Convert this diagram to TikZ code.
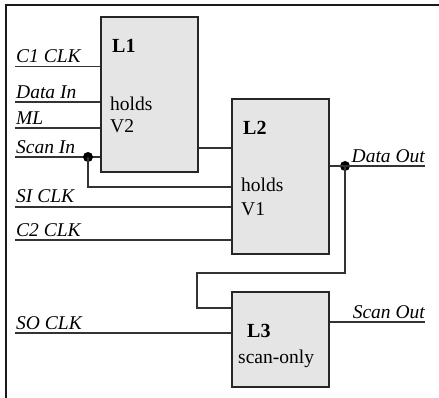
\documentclass[tikz,border=0pt]{standalone}
\usepackage{fontspec}
\setmainfont{Liberation Serif}
\begin{document}
\begin{tikzpicture}[x=1pt,y=-1pt,
  latch/.style={draw=black!85,line width=1.6pt,fill=black!10,minimum width=97pt,inner sep=0pt},
  wire/.style={draw=black!80,line width=1.25pt},
  sig/.style={font=\fontsize{19.5}{23}\selectfont\itshape,inner sep=0pt},
  txt/.style={font=\fontsize{19.5}{23}\selectfont,inner sep=0pt,anchor=base west},
  ttl/.style={font=\fontsize{20}{23}\selectfont\bfseries,inner sep=0pt,anchor=base west},
  dot/.style={circle,fill=black,inner sep=0pt,minimum size=10pt}]
\useasboundingbox (0,0) rectangle (439,398);
% corner frame
\draw[line width=1.6pt,black!90] (439,5) -- (6,5) -- (6,398);

% latches
\node[latch,minimum height=155pt] (L1) at (149.5,94.5) {};
\node[latch,minimum height=155pt] (L2) at (280.5,176.5) {};
\node[latch,minimum height=95pt]  (L3) at (280.5,339.5) {};

\node[ttl] (t1) at (112,53) {L1};
\node[txt] (h1) at (110,111) {holds};
\node[txt] (v2) at (110,133) {V2};
\node[ttl] (t2) at (243,135) {L2};
\node[txt] (h2) at (241,192) {holds};
\node[txt] (v1) at (241,215) {V1};
\node[ttl] (t3) at (247,337) {L3};
\node[txt] (so) at (238,363) {scan-only};

% free ends of the input and output wires
\coordinate (c1) at (15,66.5);
\coordinate (di) at (15,102);
\coordinate (ml) at (15,128);
\coordinate (si) at (15,157);
\coordinate (sic) at (15,207);
\coordinate (c2) at (15,240);
\coordinate (soc) at (15,333);
\coordinate (dout) at (425,166);
\coordinate (sout) at (425,322);

% L1 inputs
\draw[wire] (c1) -- (c1 -| L1.west);
\draw[wire] (di) -- (di -| L1.west);
\draw[wire] (ml) -- (ml -| L1.west);
\draw[wire] (si) -- (si -| L1.west);
\node[dot] (sdot) at (88,157) {};
\draw[wire] (sdot.center) -- (88,187) -- (L2.west |- {(0,187)});

% L1 to L2
\draw[wire] (L1.east |- {(0,148)}) -- (L2.west |- {(0,148)});
\draw[wire] (sic) -- (sic -| L2.west);
\draw[wire] (c2) -- (c2 -| L2.west);

% L2 output and feed to L3
\node[dot] (ddot) at (345,166) {};
\draw[wire] (L2.east |- dout) -- (dout);
\draw[wire] (ddot.center) -- (345,273) -- (197,273) -- (197,308) -- (L3.west |- {(0,308)});
\draw[wire] (soc) -- (soc -| L3.west);
\draw[wire] (L3.east |- sout) -- (sout);

% signal labels
\node[sig,anchor=base west] (lc1) at (16,63) {C1 CLK};
\node[sig,anchor=base west] (ldi) at (16,98.5) {Data In};
\node[sig,anchor=base west] (lml) at (16,124.5) {ML};
\node[sig,anchor=base west] (lsi) at (16,153.5) {Scan In};
\node[sig,anchor=base west] (lsic) at (16,203) {SI CLK};
\node[sig,anchor=base west] (lc2) at (16,236.5) {C2 CLK};
\node[sig,anchor=base west] (lsoc) at (16,329.5) {SO CLK};
\node[sig,anchor=base east] (ldo) at (425,162.5) {Data Out};
\node[sig,anchor=base east] (lso) at (425,318.5) {Scan Out};
\end{tikzpicture}
\end{document}
